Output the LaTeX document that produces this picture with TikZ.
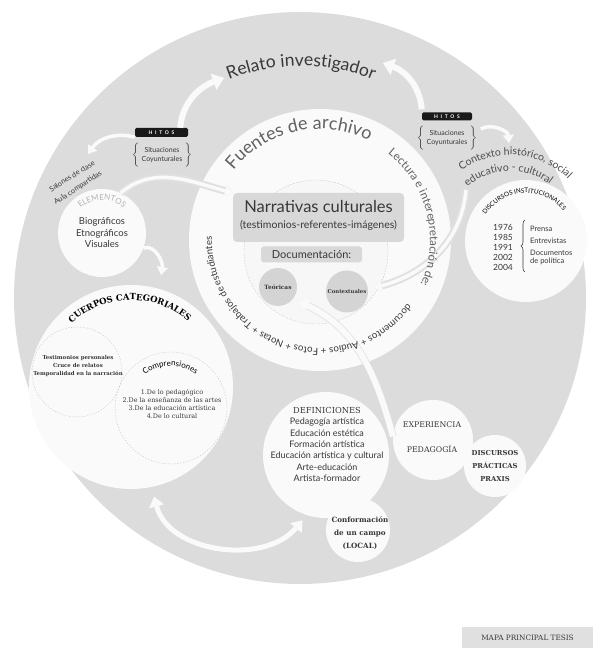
\documentclass[tikz,border=0pt]{standalone}
\usepackage{fontspec}
\setmainfont{Lato}
\newfontfamily\slab{DejaVu Serif}
\usetikzlibrary{arrows.meta,decorations.text,decorations.pathreplacing}
\newcommand{\tam}[2]{\fontsize{#1}{#2}\selectfont}
\definecolor{fondo}{HTML}{DCDCDC}
\definecolor{blanco}{HTML}{FAFAFA}
\definecolor{gris}{HTML}{D8D8D8}
\definecolor{oscuro}{HTML}{383838}

\begin{document}
\begin{tikzpicture}[x=1pt, y=1pt, text=oscuro,
    curvo/.style={decorate, decoration={text along path, text align=center, text={#1}}}]
  \tikzstyle{disco}=[circle, fill=blanco, inner sep=0pt, align=center]
  \tikzstyle{punteado}=[circle, draw=black!22, dash pattern=on 1.5pt off 1.5pt, inner sep=0pt]
  \tikzstyle{caja}=[fill=gris, rounded corners=4pt, inner sep=0pt]
  \tikzstyle{hitos}=[fill=black!90, text=white, rounded corners=1.5pt, inner sep=0pt, font=\bfseries\tam{5}{5}]
  \tikzstyle{grueso}=[draw=blanco, line width=6pt, -{Triangle[length=11pt, width=17pt, line width=0.2pt]}]
  \tikzstyle{doble}=[draw=blanco, line width=5pt, {Triangle[length=10pt, width=15pt, line width=0.2pt]}-{Triangle[length=10pt, width=15pt, line width=0.2pt]}]
  \tikzstyle{fino}=[draw=blanco, line width=3.5pt, -{Triangle[length=8pt, width=11pt, line width=0.2pt]}]
  \tikzstyle{flechita}=[draw=blanco, line width=1pt, -{Triangle[open, length=5pt, width=6pt, line width=0.8pt]}]
  \tikzstyle{borde}=[preaction={draw=black!12, line width=7.5pt}]
  \useasboundingbox (0,0) rectangle (601,648);
  \node[circle, fill=fondo, inner sep=0pt, minimum size=572pt] (mapa) at (300,350) {};
  \node[disco, minimum size=262pt] (fuentes) at (320,408) {};
  \node[punteado, fill=black!3, minimum size=144pt] (centro) at (316,396) {};
  \node[caja, minimum width=171pt, minimum height=49pt] (narrativas) at (318.5,430.5) {};
  \node[caja, minimum width=101pt, minimum height=16pt, rounded corners=3pt, font=\tam{11}{11}] (documentacion) at (311.5,393.5) {Documentación:};
  \node[circle, fill=black!17, inner sep=0pt, minimum size=38pt, font=\slab\bfseries\tam{5.8}{6}] (teoricas) at (278,361) {Teóricas};
  \node[circle, fill=black!17, inner sep=0pt, minimum size=42pt, font=\slab\bfseries\tam{5.3}{6}] (contextuales) at (347,356.5) {Contextuales};
  \node[disco, minimum size=88pt, font=\tam{9.5}{11.5}] (elementos) at (102,415) {Biográficos\\Etnográficos\\Visuales};
  \node[disco, minimum size=204pt] (cuerpos) at (131,261) {};
  \node[punteado, minimum size=90pt] (testimonios) at (77,276) {};
  \node[punteado, minimum size=112pt] (comprensiones) at (171,240) {};
  \node[disco, minimum size=122pt] (institucionales) at (526,407) {};
  \node[disco, minimum size=126pt] (definiciones) at (326,193) {};
  \node[disco, minimum size=80pt] (experiencia) at (433,208) {};
  \node[disco, minimum size=62pt, font=\slab\bfseries\tam{6.8}{13}] (praxis) at (495,182) {DISCURSOS\\PRÁCTICAS\\PRAXIS};
  \node[disco, minimum size=64pt] (campo) at (358,118) {};
  \node[fill=black!12, minimum width=131pt, minimum height=21pt, inner sep=0pt, font=\slab\tam{7.3}{8}] (tesis) at (527.5,10.5) {MAPA PRINCIPAL TESIS};

  \node[hitos, minimum width=53pt, minimum height=9pt] (hitosi) at (161.5,515.5) {H\hspace{2.6pt}I\hspace{2.6pt}T\hspace{2.6pt}O\hspace{2.6pt}S};
  \node[font=\tam{7}{9}] (coyi) at (162,493.5) {$\left\{\rule[-11pt]{0pt}{26pt}\right.$\,\begin{tabular}{@{}c@{}}Situaciones\\Coyunturales\end{tabular}\,$\left.\rule[-11pt]{0pt}{26pt}\right\}$};
  \node[hitos, minimum width=50pt, minimum height=8pt] (hitosd) at (447,531.5) {H\hspace{2.6pt}I\hspace{2.6pt}T\hspace{2.6pt}O\hspace{2.6pt}S};
  \node[font=\tam{7}{9}] (coyd) at (447,510) {$\left\{\rule[-11pt]{0pt}{26pt}\right.$\,\begin{tabular}{@{}c@{}}Situaciones\\Coyunturales\end{tabular}\,$\left.\rule[-11pt]{0pt}{26pt}\right\}$};

  \coordinate (relatoi) at (224,570);
  \coordinate (relatod) at (383,585);
  \coordinate (aula) at (88,494);
  \coordinate (contexto) at (509,505);
  \coordinate (entrada) at (233,455);
  \coordinate (bajada) at (161,373);
  \coordinate (lectura) at (466,458);
  \path ([xshift=-8pt]hitosi.north east) edge[grueso, out=85, in=200] (relatoi)
        ([yshift=3pt]hitosd.north west) edge[grueso, out=95, in=-20] (relatod)
        (hitosi.south west) edge[fino, out=165, in=55] (aula)
        ([yshift=9pt]coyd.east) edge[fino, out=30, in=95] (contexto)
        (elementos.65) edge[fino, borde, out=40, in=165] (entrada)
        (elementos.-20) edge[fino, out=20, in=80] (bajada)
        (lectura) edge[fino, borde, out=-95, in=15] ([xshift=6pt]contextuales.10)
        (experiencia.175) edge[grueso, borde, out=105, in=-25] ([shift={(4pt,-3pt)}]teoricas.-35)
        ([yshift=-10pt]cuerpos.-77) edge[doble, out=-75, in=230] ([shift={(-2pt,-6pt)}]definiciones.250)
        ([xshift=6pt]documentacion.south west) edge[flechita, out=-90, in=95] (teoricas.100)
        ([xshift=-6pt]documentacion.south east) edge[flechita, out=-90, in=60] (contextuales.75);

  \node[font=\tam{16.5}{16.5}] (titulo) at (318.5,442) {Narrativas culturales};
  \node[font=\tam{10.5}{10.5}] (subtitulo) at (318.5,423) {(testimonios-referentes-imágenes)};
  \node[align=center, font=\slab\bfseries\tam{5.4}{8}] (listatest) at (78,282) {Testimonios personales\\Cruce de relatos\\Temporalidad en la narración};
  \node[align=center, font=\slab\tam{6.4}{8}] (listacomp) at (172,244) {1.De lo pedagógico\\2.De la enseñanza de las artes\\3.De la educación artística\\4.De lo cultural};
  \node[align=center, font=\tam{8.5}{10}] (anios) at (503,401) {1976\\1985\\1991\\2002\\2004};
  \draw[oscuro, line width=0.6pt, decorate, decoration={brace, amplitude=4pt}] (525,376) -- (525,428);
  \node[anchor=west, inner sep=0pt, font=\tam{7.5}{8}] (prensa) at (530,419) {Prensa};
  \node[anchor=west, inner sep=0pt, font=\tam{7.5}{8}] (entrevistas) at (530,407) {Entrevistas};
  \node[anchor=west, inner sep=0pt, align=left, font=\tam{7.5}{8}] (documentos) at (530,391) {Documentos\\de política};
  \node[align=center, font=\tam{9}{11.4}] (listadef) at (327,203.5) {{\slab\tam{8.3}{11.4}DEFINICIONES}\\Pedagogía artística\\Educación estética\\Formación artística\\Educación artística y cultural\\Arte-educación\\Artista-formador};
  \node[font=\slab\tam{7.8}{8}] (exp) at (432,223) {EXPERIENCIA};
  \node[font=\slab\tam{7.8}{8}] (ped) at (432,199) {PEDAGOGÍA};
  \node[align=center, font=\slab\bfseries\tam{7.2}{13}] (conformacion) at (360,115) {Conformación\\de un campo\\(LOCAL)};
  \node[rotate=32, font=\tam{7.3}{8}] (salones) at (72,472) {Salones de clase};
  \node[rotate=33, font=\tam{7.3}{8}] (compartidas) at (78,460) {Aula compartidas};

  \path[curvo={|\tam{17.5}{17.5}\color{oscuro}|Relato investigador}] ([shift={(120:196)}]301,386) arc[start angle=120, end angle=60, radius=196];
  \path[curvo={|\tam{18}{18}\color{black!62}|Fuentes de archivo}] ([shift={(150:111)}]fuentes.center) arc[start angle=150, end angle=55, radius=111];
  \path[curvo={|\tam{11.5}{11.5}\color{black!62}|Lectura e interepretación de:}] ([shift={(60:110)}]fuentes.center) arc[start angle=60, end angle=-32, radius=110];
  \path[curvo={|\tam{9.7}{9.7}\color{oscuro}|documentos + Audios + Fotos + Notas + Trabajos de estudiantes}] ([shift={(-22:108)}]fuentes.center) arc[start angle=-22, end angle=-196, radius=108];
  \path[curvo={|\tam{10.5}{10.5}\color{black!70}|Contexto histórico, social}] ([shift={(132:82)}]510,411) arc[start angle=132, end angle=39, radius=82];
  \path[curvo={|\tam{10.5}{10.5}\color{black!70}|educativo - cultural}] ([shift={(135:66)}]510,411) arc[start angle=135, end angle=48, radius=66];
  \path[curvo={|\tam{6.3}{6.3}|DISCURSOS INSTITUCIONALES}] ([shift={(160:48)}]institucionales.center) arc[start angle=160, end angle=26, radius=48];
  \path[curvo={|\tam{8}{8}\color{black!30}|ELEMENTOS}] ([shift={(140:33)}]elementos.center) arc[start angle=140, end angle=40, radius=33];
  \path[curvo={|\slab\bfseries\tam{8.5}{8.5}|CUERPOS CATEGORIALES}] ([shift={(141:87)}]cuerpos.center) arc[start angle=141, end angle=41, radius=87];
  \path[curvo={|\tam{8}{8}|Comprensiones}] ([shift={(136:42)}]comprensiones.center) arc[start angle=136, end angle=46, radius=42];
\end{tikzpicture}
\end{document}
